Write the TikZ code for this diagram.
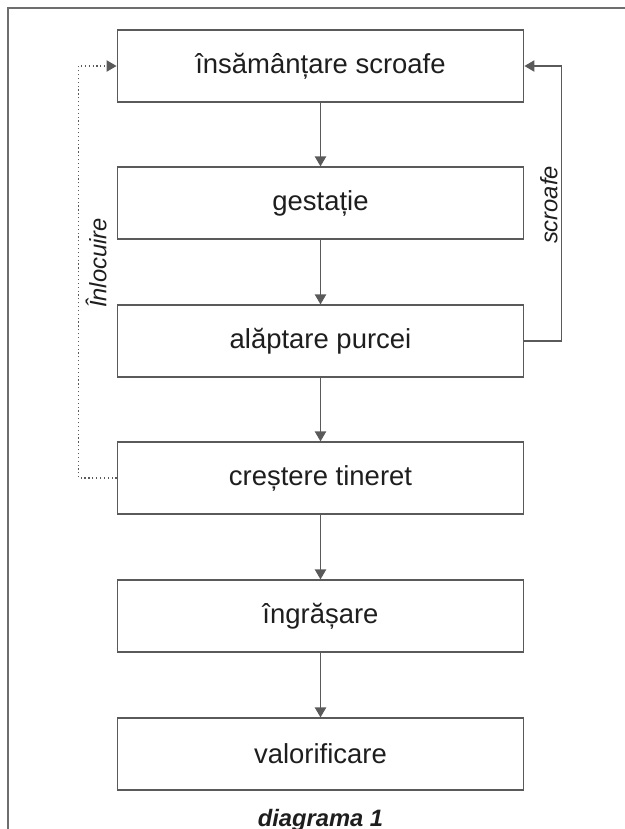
\documentclass[tikz,border=0pt]{standalone}
\usepackage{fontspec}
\setmainfont{Liberation Sans}
\usepackage{xcolor}
\definecolor{framegray}{RGB}{110,110,110}
\definecolor{linegray}{RGB}{90,90,90}
\definecolor{inkgray}{RGB}{30,30,30}
\usetikzlibrary{arrows.meta, positioning}

\begin{document}
\begin{tikzpicture}[
    x=0.75pt, y=-0.75pt,
    >={Triangle[length=7.5pt, width=8.5pt]},
    stage/.style={draw=linegray, line width=0.9pt, rectangle, minimum width=305pt, minimum height=54pt, align=center, text=inkgray, font=\fontsize{20.6}{24}\selectfont},
    flow/.style={->, draw=linegray, line width=0.9pt},
    loopnote/.style={text=inkgray, font=\itshape\fontsize{17.8}{20}\selectfont, rotate=90}
  ]
  \useasboundingbox (0,0) rectangle (625,829);

  % outer frame, cut off at right and bottom
  \draw[framegray, line width=0.8pt] (8,860) -- (8,8) -- (660,8);

  % Main chain
  \node (insam) at (320.5, 66) [stage] {însămânțare scroafe};
  \node (gest) at (320.5, 203) [stage] {gestație};
  \node (alapt) at (320.5, 341) [stage] {alăptare purcei};
  \node (crest) at (320.5, 478) [stage] {creștere tineret};
  \node (ingras) at (320.5, 616) [stage] {îngrășare};
  \node (valor) at (320.5, 754) [stage] {valorificare};

  \draw[flow] (insam) -- (gest);
  \draw[flow] (gest) -- (alapt);
  \draw[flow] (alapt) -- (crest);
  \draw[flow] (crest) -- (ingras);
  \draw[flow] (ingras) -- (valor);

  % Feedback loops
  \draw[flow] (alapt.east) -- ++(37,0) |- (insam.east);
  \draw[flow, dotted] (crest.west) -- ++(-38,0) |- (insam.west);
  \node (scroafe) at (549, 205) [loopnote] {scroafe};
  \node (inlocuire) at (96, 263) [loopnote] {Înlocuire};

  % Caption
  \node (caption) at (320.5, 826) [anchor=base, text=inkgray, font=\bfseries\itshape\fontsize{17.8}{20}\selectfont] {diagrama 1};
\end{tikzpicture}
\end{document}
